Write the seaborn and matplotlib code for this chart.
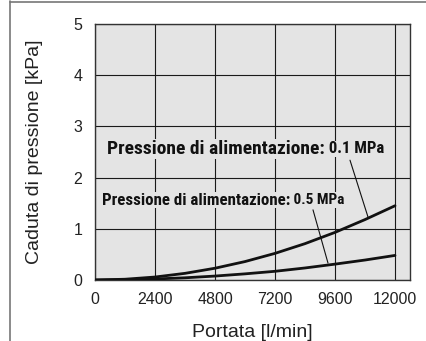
import pandas as pd
import numpy as np
import matplotlib.pyplot as plt
import seaborn as sns
from matplotlib.lines import Line2D

flow=[0,1200,2400,3600,4800,6000,7200,8400,9600,10800,12000]
drop_01=[0.0,0.015,0.058,0.13,0.23,0.36,0.52,0.71,0.93,1.18,1.45]
drop_05=[0.0,0.005,0.02,0.043,0.077,0.12,0.17,0.235,0.31,0.39,0.48]
xticks=[0,2400,4800,7200,9600,12000]
yticks=[0,1,2,3,4,5]

df=pd.DataFrame({"flow":flow*2,
                 "drop":drop_01+drop_05,
                 "p":["0.1"]*len(flow)+["0.5"]*len(flow)})

sns.set_style("whitegrid",{"axes.facecolor":"#e4e4e4","grid.color":"#1a1a1a",
                           "axes.edgecolor":"#333333","grid.linewidth":1.0})
plt.rcParams['font.family']=['Liberation Sans','DejaVu Sans']

fig=plt.figure(figsize=(4.26,3.41),dpi=100)
ax=fig.add_axes([95/426,1-280/341,315/426,256/341])
sns.lineplot(data=df,x="flow",y="drop",units="p",estimator=None,color="#111111",
             linewidth=2.0,ax=ax,legend=False,zorder=3)

ax.set_xlim(0,12600)
ax.set_ylim(0,5)
ax.set_xticks(xticks)
ax.set_yticks(yticks)
ax.set_xticklabels([str(t) for t in xticks],fontsize=11.5,color="#222222")
ax.set_yticklabels([str(t) for t in yticks],fontsize=11.5,color="#222222")
ax.tick_params(axis="x",length=0,pad=9)
ax.tick_params(axis="y",length=0,pad=9)
ax.set_xlabel("Portata [l/min]",fontsize=14,labelpad=12,color="#222222")
ax.set_ylabel("Caduta di pressione [kPa]",fontsize=14,labelpad=22,color="#222222")
for s in ax.spines.values():
    s.set_linewidth(1.0)

cond=['Roboto Condensed','Liberation Sans Narrow','Roboto','DejaVu Sans']
bb=dict(facecolor="#e4e4e4",edgecolor="none",pad=0.5)
t1=ax.text(480,2.56,"Pressione di alimentazione:",fontsize=14,fontweight="bold",
           family=cond,va="center",bbox=bb,zorder=4,color="#111111")
ax.annotate(" 0.1 MPa",xy=(1,0.5),xycoords=t1,fontsize=12,fontweight="bold",family=cond,
            va="center",ha="left",bbox=bb,zorder=4,color="#111111")
t2=ax.text(280,1.56,"Pressione di alimentazione:",fontsize=12.2,fontweight="bold",
           family=cond,va="center",bbox=bb,zorder=4,color="#111111")
ax.annotate(" 0.5 MPa",xy=(1,0.5),xycoords=t2,fontsize=11,fontweight="bold",family=cond,
            va="center",ha="left",bbox=bb,zorder=4,color="#111111")
ax.plot([10200,10920],[2.34,1.23],color="#111111",lw=0.8,zorder=3)
ax.plot([8720,9320],[1.37,0.33],color="#111111",lw=0.8,zorder=3)

fig.add_artist(Line2D([9.5/426,9.5/426],[0,1-1/341],color="#777777",lw=1.2,transform=fig.transFigure))
fig.add_artist(Line2D([9.5/426,1],[1-1.5/341,1-1.5/341],color="#777777",lw=1.2,transform=fig.transFigure))

fig.savefig("out.png",dpi=100)
